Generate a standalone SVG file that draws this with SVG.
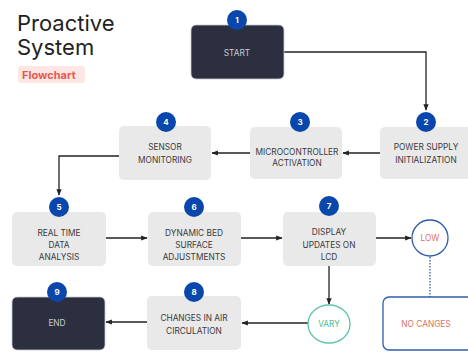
<svg xmlns="http://www.w3.org/2000/svg" width="468" height="354" viewBox="0 0 468 354">
<defs>
<marker id="arr" viewBox="0 0 10 10" refX="9" refY="5" markerWidth="5" markerHeight="5" orient="auto-start-reverse">
<path d="M0,1 L10,5 L0,9 z" fill="#222"/>
</marker>
<style>
.title{font-family:Inter,"Liberation Sans",sans-serif;font-size:22px;fill:#222}
.badge{font-family:Inter,"Liberation Sans",sans-serif;font-size:11px;font-weight:700;fill:#e35a4e}
.dark{fill:#2b2f3f;stroke:#c9ccd4;stroke-width:0.8}
.gray{fill:#e9e9ea}
.num{fill:#0a47ad}
.numt{font-family:Inter,"Liberation Sans",sans-serif;font-size:8px;font-weight:700;fill:#fff;text-anchor:middle}
.lbl{font-family:Inter,"Liberation Sans",sans-serif;font-size:8.3px;fill:#3a3a3a;text-anchor:middle}
.lbld{font-family:Inter,"Liberation Sans",sans-serif;font-size:8.3px;fill:#c9ccd4;text-anchor:middle}
.con{fill:none;stroke:#222;stroke-width:1.3}
</style>
</defs>
<rect width="468" height="354" fill="#fff"/>
<g id="title">
<text class="title" x="17" y="31">Proactive</text>
<text class="title" x="17" y="55">System</text>
<rect x="18" y="66" width="67" height="17" rx="3" fill="#fde6e3"/>
<text class="badge" x="22" y="78.5">Flowchart</text>
</g>
<g id="connectors">
<path class="con" d="M284,52 H426 V110" marker-end="url(#arr)"/>
<path class="con" d="M380,153 H343" marker-end="url(#arr)"/>
<path class="con" d="M250,153 H212" marker-end="url(#arr)"/>
<path class="con" d="M119,156 H59 V195" marker-end="url(#arr)"/>
<path class="con" d="M106,238 H147" marker-end="url(#arr)"/>
<path class="con" d="M241,238 H282" marker-end="url(#arr)"/>
<path class="con" d="M376,238 H411" marker-end="url(#arr)"/>
<path d="M430,257 V297" fill="none" stroke="#2f5cae" stroke-width="1.3" stroke-dasharray="1.5,1.5"/>
<path class="con" d="M329,266 V304" marker-end="url(#arr)"/>
<path class="con" d="M308,323 H242" marker-end="url(#arr)"/>
<path class="con" d="M147,322 H106" marker-end="url(#arr)"/>
</g>
<g id="n1">
<rect class="dark" x="191" y="25" width="93" height="54" rx="5"/>
<circle class="num" cx="237" cy="20" r="10"/>
<text class="numt" x="237" y="23">1</text>
<text class="lbld" x="237" y="56">START</text>
</g>
<g id="n2">
<rect class="gray" x="380" y="127" width="92" height="52" rx="5"/>
<circle class="num" cx="426" cy="122" r="10"/>
<text class="numt" x="426" y="125">2</text>
<text class="lbl" x="426" y="150">POWER SUPPLY</text>
<text class="lbl" x="426" y="163">INITIALIZATION</text>
</g>
<g id="n3">
<rect class="gray" x="250" y="127" width="92" height="52" rx="5"/>
<circle class="num" cx="300" cy="122" r="10"/>
<text class="numt" x="300" y="125">3</text>
<text class="lbl" x="297" y="155">MICROCONTROLLER</text>
<text class="lbl" x="297" y="166">ACTIVATION</text>
</g>
<g id="n4">
<rect class="gray" x="119" y="126" width="92" height="54" rx="5"/>
<circle class="num" cx="166" cy="122" r="10"/>
<text class="numt" x="166" y="125">4</text>
<text class="lbl" x="165" y="150">SENSOR</text>
<text class="lbl" x="165" y="163">MONITORING</text>
</g>
<g id="n5">
<rect class="gray" x="12" y="212" width="94" height="54" rx="5"/>
<circle class="num" cx="59" cy="207" r="10"/>
<text class="numt" x="59" y="210">5</text>
<text class="lbl" x="59" y="236">REAL TIME</text>
<text class="lbl" x="59" y="248">DATA</text>
<text class="lbl" x="59" y="260">ANALYSIS</text>
</g>
<g id="n6">
<rect class="gray" x="148" y="212" width="93" height="54" rx="5"/>
<circle class="num" cx="194" cy="207" r="10"/>
<text class="numt" x="194" y="210">6</text>
<text class="lbl" x="194" y="236">DYNAMIC BED</text>
<text class="lbl" x="194" y="248">SURFACE</text>
<text class="lbl" x="194" y="260">ADJUSTMENTS</text>
</g>
<g id="n7">
<rect class="gray" x="283" y="212" width="93" height="54" rx="5"/>
<circle class="num" cx="329" cy="206" r="10"/>
<text class="numt" x="329" y="209">7</text>
<text class="lbl" x="329" y="235">DISPLAY</text>
<text class="lbl" x="329" y="248">UPDATES ON</text>
<text class="lbl" x="329" y="260">LCD</text>
</g>
<g id="low">
<circle cx="430" cy="238" r="18" fill="#fff" stroke="#2f5cae" stroke-width="1.3"/>
<text class="lbl" x="430" y="241" style="fill:#e0705f">LOW</text>
</g>
<g id="nochanges">
<rect x="383" y="297" width="92" height="53" rx="6" fill="#fff" stroke="#2f5cae" stroke-width="1.3"/>
<text class="lbl" x="426" y="327" style="fill:#e0705f">NO CANGES</text>
</g>
<g id="vary">
<ellipse cx="329" cy="324" rx="21" ry="19" fill="#fff" stroke="#5fc4a0" stroke-width="1.3"/>
<text class="lbl" x="329" y="327" style="fill:#4fb890">VARY</text>
</g>
<g id="n8">
<rect class="gray" x="147" y="296" width="94" height="54" rx="5"/>
<circle class="num" cx="194" cy="292" r="10"/>
<text class="numt" x="194" y="295">8</text>
<text class="lbl" x="194" y="321">CHANGES IN AIR</text>
<text class="lbl" x="194" y="334">CIRCULATION</text>
</g>
<g id="n9">
<rect class="dark" x="12" y="297" width="93" height="53" rx="5"/>
<circle class="num" cx="57" cy="292" r="10"/>
<text class="numt" x="57" y="295">9</text>
<text class="lbld" x="57" y="326">END</text>
</g>
</svg>
